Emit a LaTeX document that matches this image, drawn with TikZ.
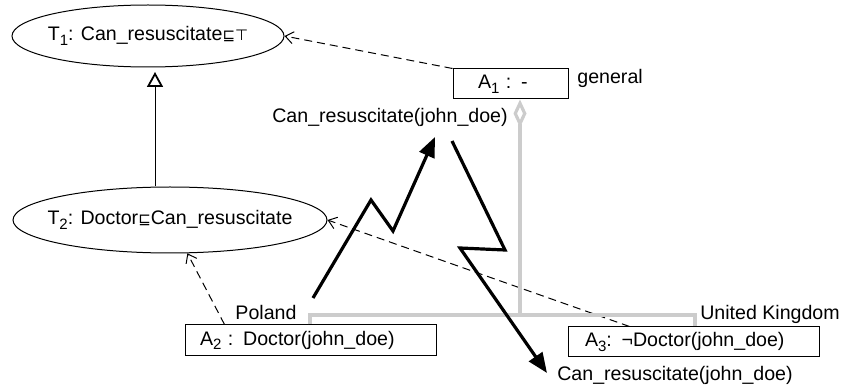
\documentclass[tikz,border=0pt]{standalone}
\usepackage{fontspec}
\setmainfont{Liberation Sans}
\newfontfamily\symf{DejaVu Sans}
\usetikzlibrary{arrows.meta,shapes.geometric,calc}
\newcommand{\sbs}[1]{\raisebox{-0.45ex}{\fontsize{7.5}{8}\selectfont #1}}
\begin{document}
\begin{tikzpicture}[x=0.5pt,y=-0.5pt,
  every node/.style={font=\fontsize{9.8}{12}\selectfont},
  ell/.style={draw,ellipse,line width=0.5pt,inner ysep=0pt},
  boxn/.style={draw,rectangle,line width=0.5pt,inner ysep=0pt,align=left},
  lbl/.style={inner sep=0pt},
  dep/.style={dashed,dash pattern=on 4pt off 2.5pt,line width=0.5pt,-{Straight Barb[length=4pt,width=6pt]}},
  greyline/.style={draw=black!20,line width=1.6pt},
  bolt/.style={line width=1.6pt,-{Triangle[length=10pt,width=8pt]}}]
\useasboundingbox (0,0) rectangle (843,390);
% theories
\node[ell,inner xsep=-3pt,minimum width=136pt,minimum height=31pt] (t1) at (148,36) {T\sbs{1}: Can\_resuscitate{\symf\fontsize{7.5}{8}\selectfont ⊑⊤}};
\node[ell,inner xsep=-6pt,minimum width=157pt,minimum height=33pt] (t2) at (170,220) {T\sbs{2}: Doctor{\symf\fontsize{7.5}{8}\selectfont ⊑}Can\_resuscitate};
% boxes
\node[boxn,minimum height=15pt,text width=32.5pt,inner xsep=12.5pt] (a1) at (510.5,84) {A\sbs{1} : -};
\node[boxn,minimum height=15.5pt,text width=110.5pt,inner xsep=7.5pt] (a2) at (310.5,340.5) {A\sbs{2} : Doctor(john\_doe)};
\node[boxn,minimum height=15pt,text width=108.5pt,inner xsep=8.5pt] (a3) at (693.5,342) {A\sbs{3}: ¬Doctor(john\_doe)};
% labels
\node[lbl,anchor=west] (gen) at (577,78) {general};
\node[lbl] (pol) at (266,312) {Poland};
\node[lbl] (uk) at (770,314) {United Kingdom};
\node[lbl] (cr1) at (390,117) {Can\_resuscitate(john\_doe)};
\node[lbl] (cr2) at (675,375) {Can\_resuscitate(john\_doe)};
% generalisation
\draw[line width=0.5pt,-{Triangle[open,length=7.5pt,width=8pt,line width=0.9pt]}] (t2.north -| 155,0) -- (155,72);
% dependencies
\draw[dep] (a1.north west) -- (t1.east);
\draw[dep] ($(a2.north west)+(40,0)$) -- (t2);
\draw[dep] ($(a3.north west)+(62,0)$) -- (t2.east);
% grey tree
\coordinate (j) at (520,315);
\coordinate (jl) at (310,315);
\coordinate (jr) at (695,315);
\draw[greyline,{Diamond[open,length=14pt,width=6.5pt]}-] (a1.south -| j) -- (j);
\draw[greyline] (a2.north -| jl) -- (jl) -- (jr) -- (a3.north -| jr);
% lightning arrows
\coordinate (b1s) at (313,298);
\coordinate (b1a) at (371,200);
\coordinate (b1b) at (393,231);
\coordinate (b1e) at (435,137);
\draw[bolt] (b1s) -- (b1a) -- (b1b) -- (b1e);
\coordinate (b2s) at (452,141);
\coordinate (b2a) at (505,250);
\coordinate (b2b) at (460,248);
\coordinate (b2e) at (547,373);
\draw[bolt] (b2s) -- (b2a) -- (b2b) -- (b2e);
\end{tikzpicture}
\end{document}
